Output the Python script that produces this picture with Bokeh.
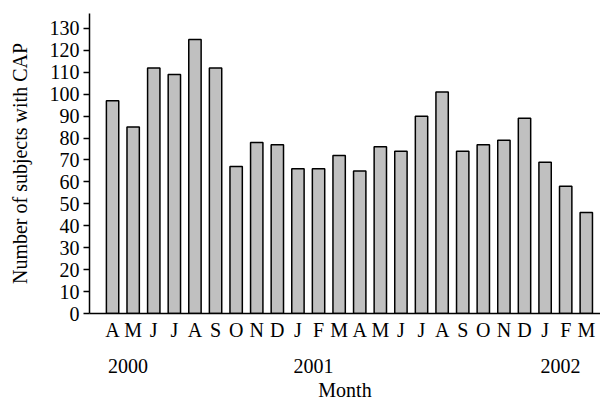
from bokeh.plotting import figure
from bokeh.models import FixedTicker, LinearAxis, Range1d
from bokeh.embed import file_html
from bokeh.resources import INLINE

months = ["A", "M", "J", "J", "A", "S", "O", "N", "D", "J", "F", "M",
          "A", "M", "J", "J", "A", "S", "O", "N", "D", "J", "F", "M"]
counts = [97, 85, 112, 109, 125, 112, 67, 78, 77, 66, 66, 72,
          65, 76, 74, 90, 101, 74, 77, 79, 89, 69, 58, 46]
years = ["2000", "2001", "2002"]
year_start = [0, 9, 21]  # month index where each year begins
y_ticks = list(range(0, 131, 10))

FONT = "Liberation Serif"
FS = "20px"
INK = "black"

x = list(range(len(months)))
p = figure(width=600, height=403, output_backend="svg", toolbar_location=None,
           x_range=Range1d(-1.12, 23.69), y_range=Range1d(0, 136.8),
           min_border_left=89, min_border_right=0, min_border_top=13,
           min_border_bottom=89)
p.vbar(x=x, top=counts, width=0.6, fill_color="#c0c0c0",
       line_color="black", line_width=1.5)

p.grid.visible = False
p.outline_line_color = None
p.background_fill_color = "white"

# y axis
ya = p.yaxis[0]
ya.ticker = FixedTicker(ticks=y_ticks)
ya.minor_tick_line_color = None
ya.major_tick_in = 0
ya.major_tick_out = 6
ya.major_tick_line_width = 1.5
ya.major_tick_line_color = INK
ya.axis_line_width = 1.5
ya.axis_line_color = INK
ya.major_label_standoff = 4
ya.major_label_text_font = FONT
ya.major_label_text_font_size = FS
ya.major_label_text_color = INK
ya.axis_label = "Number of subjects with CAP"
ya.axis_label_text_font = FONT
ya.axis_label_text_font_size = FS
ya.axis_label_text_font_style = "normal"
ya.axis_label_text_color = INK
ya.axis_label_standoff = 16

# month axis
xa = p.xaxis[0]
xa.ticker = FixedTicker(ticks=x)
xa.major_label_overrides = {i: m for i, m in enumerate(months)}
xa.minor_tick_line_color = None
xa.major_tick_in = 0
xa.major_tick_out = 0
xa.axis_line_width = 1.5
xa.axis_line_color = INK
xa.major_label_standoff = 5
xa.major_label_text_font = FONT
xa.major_label_text_font_size = FS
xa.major_label_text_color = INK

# year axis
year_pos = [s + 0.75 for s in year_start]
ya2 = LinearAxis(ticker=FixedTicker(ticks=year_pos),
                 major_label_overrides={pos: y for pos, y in zip(year_pos, years)},
                 axis_line_color=None, major_tick_line_color=None,
                 minor_tick_line_color=None, major_tick_in=0, major_tick_out=0,
                 major_label_standoff=15,
                 major_label_text_font=FONT, major_label_text_font_size=FS,
                 major_label_text_color=INK,
                 axis_label="Month", axis_label_text_font=FONT,
                 axis_label_text_font_size=FS, axis_label_text_font_style="normal",
                 axis_label_text_color=INK,
                 axis_label_standoff=3)
p.add_layout(ya2, "below")

open("out.html", "w").write(file_html(p, INLINE))
